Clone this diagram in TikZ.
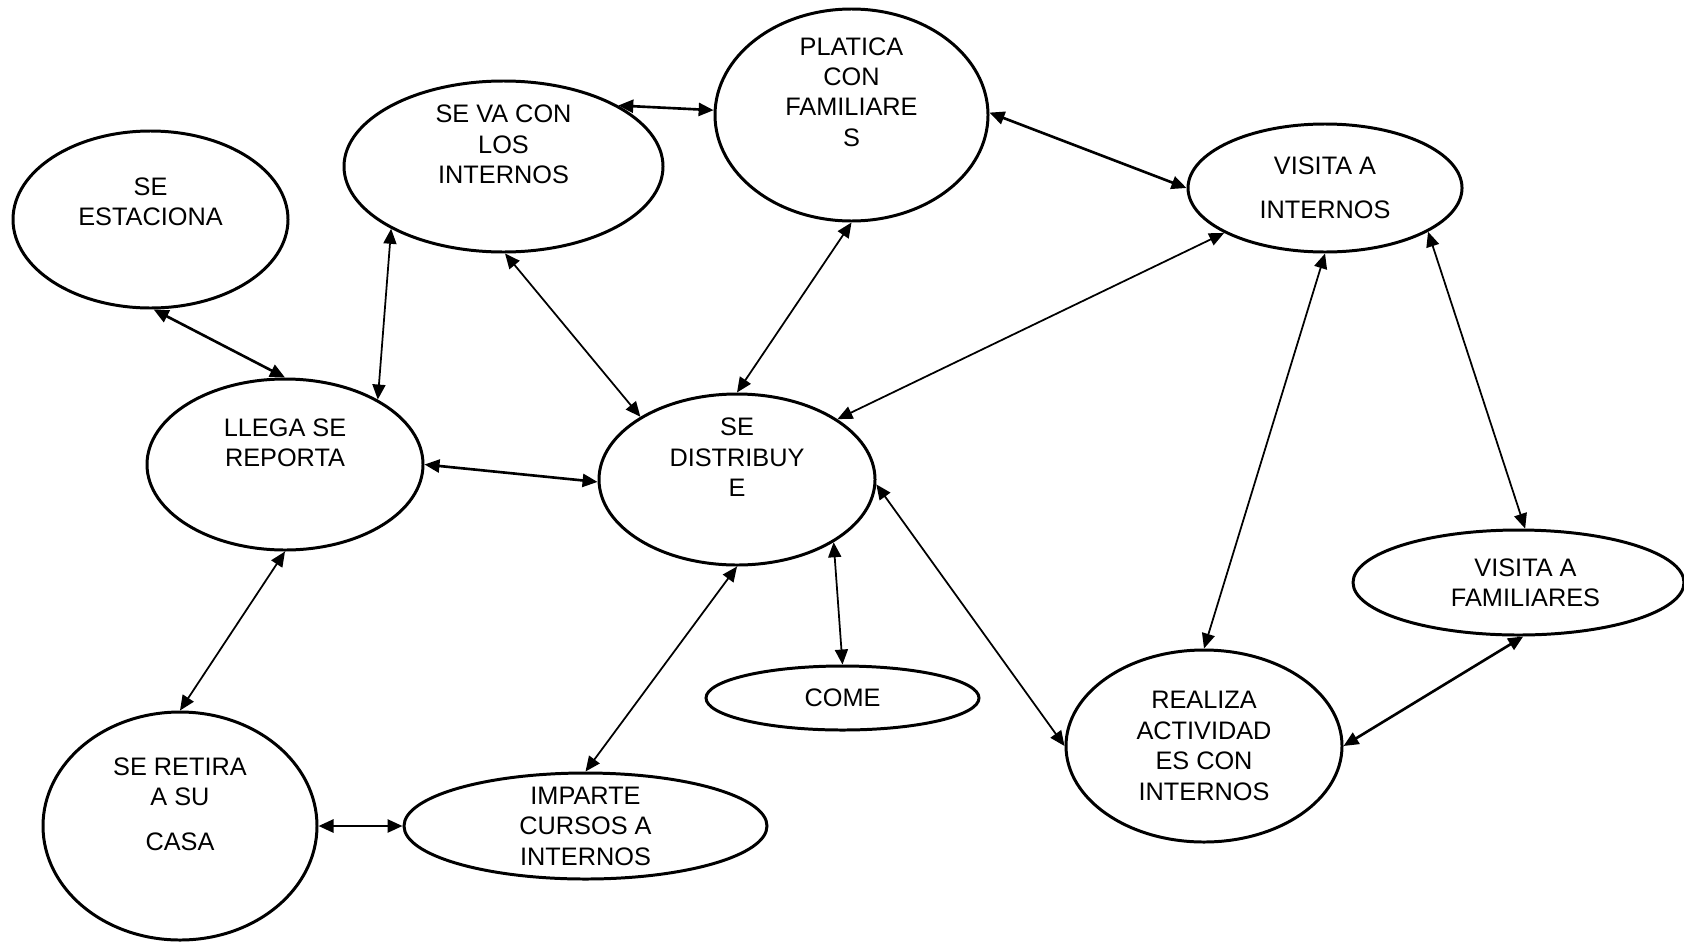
\documentclass[tikz,border=0pt]{standalone}
\usepackage{fontspec}
\setmainfont{Liberation Sans}
\usetikzlibrary{arrows.meta,shapes.geometric}
\tikzset{
  bubble/.style = {ellipse, draw, line width=0.85pt, fill=white, inner sep=0},
  txt/.style    = {align=center, inner sep=0, font=\fontsize{7.2}{8.65}\selectfont},
  link/.style   = {line width=0.5pt, {Triangle[length=1.5mm,width=1.3mm]}-{Triangle[length=1.5mm,width=1.3mm]}},
  linkb/.style  = {link, line width=0.75pt}
}
\begin{document}
\begin{tikzpicture}
  \useasboundingbox (0,0) rectangle (16.84,9.43);
  % estados
  \node[bubble, minimum width=2.75cm, minimum height=1.77cm] (est)    at (1.505,7.235) {};
  \node[bubble, minimum width=3.19cm, minimum height=1.71cm] (seva)   at (5.035,7.765) {};
  \node[bubble, minimum width=2.73cm, minimum height=2.12cm] (plat)   at (8.515,8.28)  {};
  \node[bubble, minimum width=2.74cm, minimum height=1.28cm] (visint) at (13.25,7.55)  {};
  \node[bubble, minimum width=2.76cm, minimum height=1.71cm] (llega)  at (2.85,4.785)  {};
  \node[bubble, minimum width=2.76cm, minimum height=1.71cm] (dist)   at (7.37,4.635)  {};
  \node[bubble, minimum width=3.31cm, minimum height=1.05cm] (visfam) at (15.185,3.605) {};
  \node[bubble, minimum width=2.73cm, minimum height=0.64cm] (come)   at (8.425,2.45)  {};
  \node[bubble, minimum width=2.76cm, minimum height=1.92cm] (real)   at (12.04,1.97)  {};
  \node[bubble, minimum width=2.74cm, minimum height=2.28cm] (ret)    at (1.80,1.17)   {};
  \node[bubble, minimum width=3.63cm, minimum height=1.06cm] (imp)    at (5.855,1.17)  {};
  % textos
  \node[txt] (est-t)    at ([yshift=1.8mm]est.center)   {SE\\ESTACIONA};
  \node[txt] (seva-t)   at ([yshift=2.2mm]seva.center)  {SE VA CON\\LOS\\INTERNOS};
  \node[txt] (plat-t)   at ([yshift=2.3mm]plat.center)  {PLATICA\\CON\\FAMILIARE\\S};
  \node[txt] (visint-t) at (visint.center)              {VISITA A\\[4pt]INTERNOS};
  \node[txt] (llega-t)  at ([yshift=2.2mm]llega.center) {LLEGA SE\\REPORTA};
  \node[txt] (dist-t)   at ([yshift=2.2mm]dist.center)  {SE\\DISTRIBUY\\E};
  \node[txt] (visfam-t) at ([xshift=0.7mm]visfam.center) {VISITA A\\FAMILIARES};
  \node[txt] (come-t)   at (come.center)                {COME};
  \node[txt] (real-t)   at (real.center)                {REALIZA\\ACTIVIDAD\\ES CON\\INTERNOS};
  \node[txt] (ret-t)    at ([yshift=2.2mm]ret.center)   {SE RETIRA\\A SU\\[4pt]CASA};
  \node[txt] (imp-t)    at (imp.center)                 {IMPARTE\\CURSOS A\\INTERNOS};
  % relaciones
  \draw[linkb] (est.-88)    -- (llega.90);
  \draw[link]  (seva.-151)  -- (llega.35);
  \draw[linkb] (seva.28)    -- (plat.178);
  \draw[link]  (seva.-89)   -- (dist.147);
  \draw[link]  (plat.-90)   -- (dist.90);
  \draw[linkb] (plat.1)     -- (visint.180);
  \draw[link]  (visint.-156) -- (dist.31);
  \draw[linkb] (llega.0)    -- (dist.181);
  \draw[link]  (visint.-90) -- (real.90);
  \draw[link]  (visint.-23) -- (visfam.83);
  \draw[link]  (dist.-33)   -- (come.90);
  \draw[link]  (dist.-2)    -- (real.180);
  \draw[linkb] (real.0)     -- (visfam.-85);
  \draw[link]  (llega.-90)  -- (ret.90);
  \draw[link]  (dist.-90)   -- (imp.90);
  \draw[linkb] (ret.0)      -- (imp.180);
\end{tikzpicture}
\end{document}
